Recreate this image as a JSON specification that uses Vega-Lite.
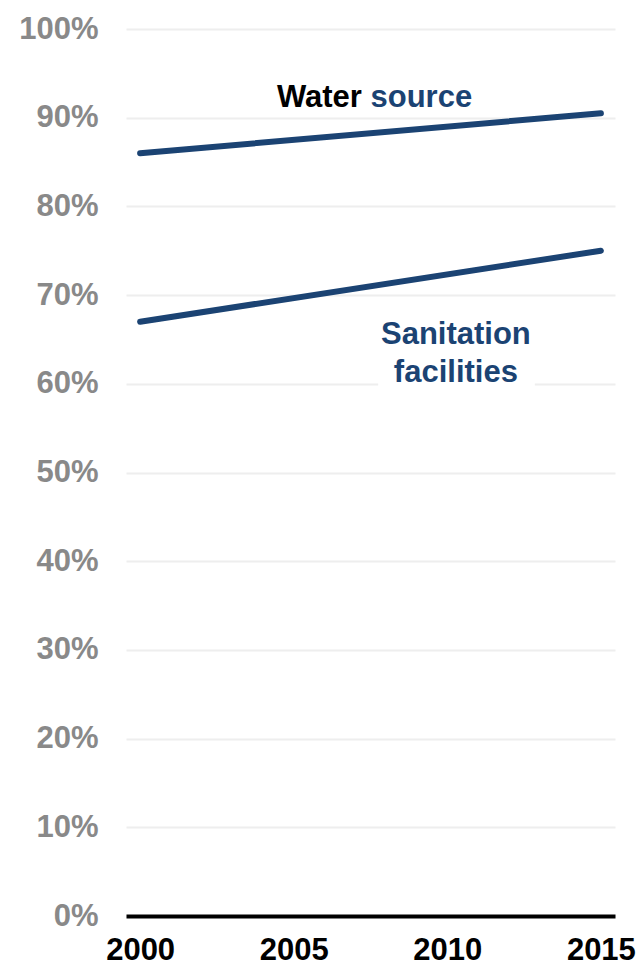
{
  "$schema": "https://vega.github.io/schema/vega-lite/v6.json",
  "width": 489,
  "height": 887,
  "autosize": {"type": "none"},
  "padding": {"left": 126, "top": 29, "right": 24, "bottom": 53},
  "background": "white",
  "config": {
    "view": {"stroke": null},
    "font": "Liberation Sans"
  },
  "datasets": {
    "lines": [
      {"series": "Water source", "year": 2000, "value": 86.0},
      {"series": "Water source", "year": 2015, "value": 90.5},
      {"series": "Sanitation facilities", "year": 2000, "value": 67.0},
      {"series": "Sanitation facilities", "year": 2015, "value": 75.0}
    ],
    "water": [
      {"text": "Water", "year": 2007.22, "value": 91.2}
    ],
    "source": [
      {"text": "source", "year": 2007.5, "value": 91.2}
    ],
    "mask": [
      {"x1": 2007.75, "x2": 2012.85, "y1": 59.4, "y2": 60.6}
    ],
    "sanlabel": [
      {"text": ["Sanitation", "facilities"], "year": 2010.28, "value": 64.5}
    ]
  },
  "layer": [
    {
      "data": {"name": "lines"},
      "mark": {"type": "line", "strokeWidth": 6, "strokeCap": "round", "color": "#1b4373"},
      "encoding": {
        "x": {
          "field": "year", "type": "quantitative",
          "scale": {"domain": [1999.54, 2015.46], "nice": false, "zero": false},
          "axis": {
            "values": [2000, 2005, 2010, 2015], "format": "d", "title": null,
            "grid": false, "ticks": false,
            "domainColor": "#000000", "domainWidth": 4,
            "labelFont": "Liberation Sans", "labelFontSize": 31, "labelFontWeight": "bold",
            "labelColor": "#000000", "labelPadding": 19, "labelFlush": false
          }
        },
        "y": {
          "field": "value", "type": "quantitative",
          "scale": {"domain": [0, 100], "nice": false},
          "axis": {
            "values": [0, 10, 20, 30, 40, 50, 60, 70, 80, 90, 100],
            "labelExpr": "datum.value + '%'", "title": null,
            "domain": false, "ticks": false,
            "grid": true, "gridColor": "#eeeeee", "gridWidth": 2,
            "labelFont": "Liberation Sans", "labelFontSize": 31, "labelFontWeight": "bold",
            "labelColor": "#898989", "labelPadding": 28
          }
        },
        "detail": {"field": "series", "type": "nominal"}
      }
    },
    {
      "data": {"name": "mask"},
      "mark": {"type": "rect", "color": "white"},
      "encoding": {
        "x": {"field": "x1", "type": "quantitative"},
        "x2": {"field": "x2"},
        "y": {"field": "y1", "type": "quantitative"},
        "y2": {"field": "y2"}
      }
    },
    {
      "data": {"name": "water"},
      "mark": {"type": "text", "fontSize": 31, "fontWeight": "bold", "baseline": "alphabetic", "align": "right", "color": "#000000", "font": "Liberation Sans"},
      "encoding": {
        "x": {"field": "year", "type": "quantitative"},
        "y": {"field": "value", "type": "quantitative"},
        "text": {"field": "text"}
      }
    },
    {
      "data": {"name": "source"},
      "mark": {"type": "text", "fontSize": 31, "fontWeight": "bold", "baseline": "alphabetic", "align": "left", "color": "#1b4373", "font": "Liberation Sans"},
      "encoding": {
        "x": {"field": "year", "type": "quantitative"},
        "y": {"field": "value", "type": "quantitative"},
        "text": {"field": "text"}
      }
    },
    {
      "data": {"name": "sanlabel"},
      "mark": {"type": "text", "fontSize": 31, "fontWeight": "bold", "baseline": "alphabetic", "align": "center", "lineHeight": 38.5, "color": "#1b4373", "font": "Liberation Sans"},
      "encoding": {
        "x": {"field": "year", "type": "quantitative"},
        "y": {"field": "value", "type": "quantitative"},
        "text": {"field": "text"}
      }
    }
  ]
}
